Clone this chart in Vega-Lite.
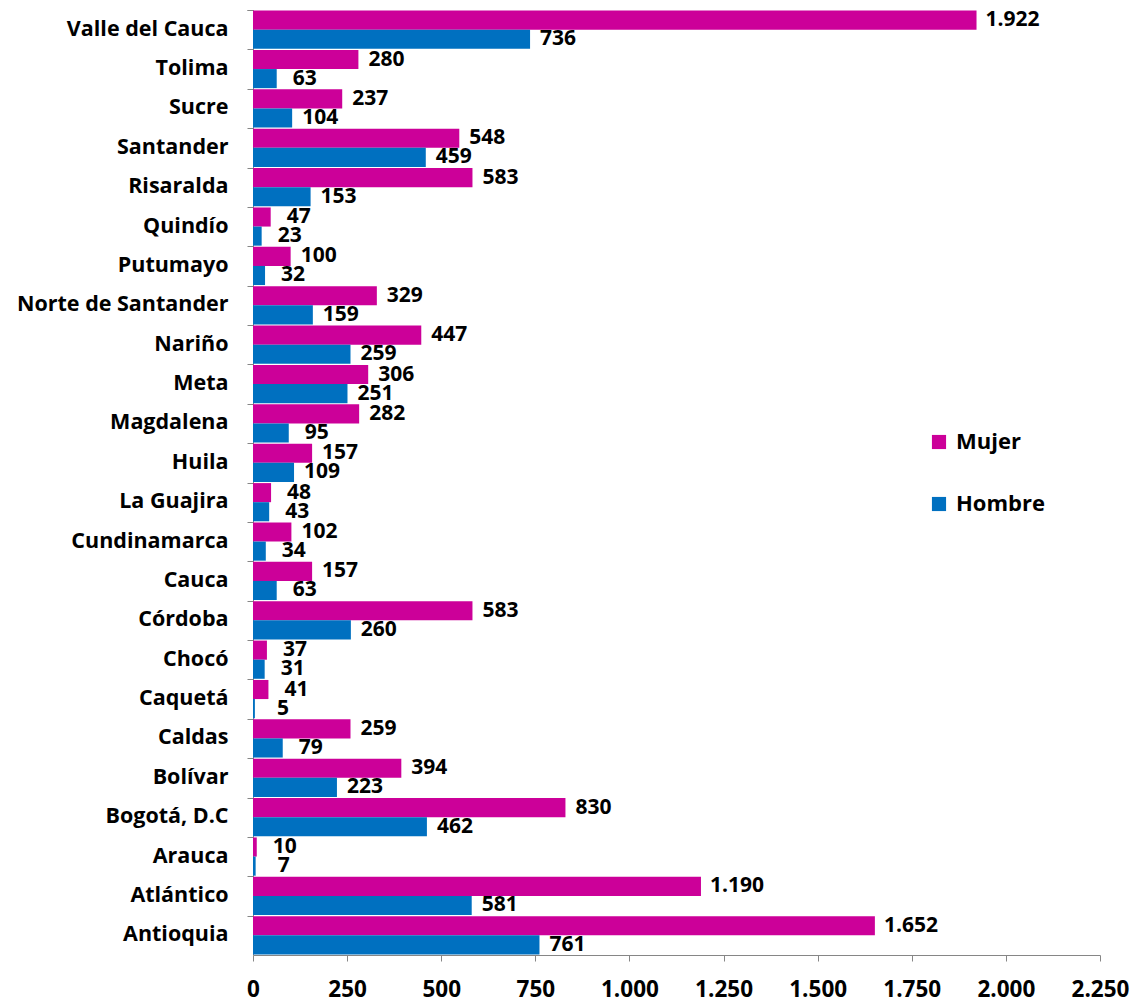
{
  "$schema": "https://vega.github.io/schema/vega-lite/v6.json",
  "width": 847,
  "height": 945,
  "autosize": {"type": "none"},
  "padding": {"left": 253, "top": 10, "right": 38, "bottom": 46},
  "background": "white",
  "config": {
    "locale": {"number": {"decimal": ",", "thousands": ".", "grouping": [3], "currency": ["$", ""]}},
    "font": "Open Sans",
    "view": {"stroke": null}
  },
  "data": {
    "values": [
      {"dep": "Valle del Cauca", "sexo": "Mujer", "valor": 1922},
      {"dep": "Valle del Cauca", "sexo": "Hombre", "valor": 736},
      {"dep": "Tolima", "sexo": "Mujer", "valor": 280},
      {"dep": "Tolima", "sexo": "Hombre", "valor": 63},
      {"dep": "Sucre", "sexo": "Mujer", "valor": 237},
      {"dep": "Sucre", "sexo": "Hombre", "valor": 104},
      {"dep": "Santander", "sexo": "Mujer", "valor": 548},
      {"dep": "Santander", "sexo": "Hombre", "valor": 459},
      {"dep": "Risaralda", "sexo": "Mujer", "valor": 583},
      {"dep": "Risaralda", "sexo": "Hombre", "valor": 153},
      {"dep": "Quindío", "sexo": "Mujer", "valor": 47},
      {"dep": "Quindío", "sexo": "Hombre", "valor": 23},
      {"dep": "Putumayo", "sexo": "Mujer", "valor": 100},
      {"dep": "Putumayo", "sexo": "Hombre", "valor": 32},
      {"dep": "Norte de Santander", "sexo": "Mujer", "valor": 329},
      {"dep": "Norte de Santander", "sexo": "Hombre", "valor": 159},
      {"dep": "Nariño", "sexo": "Mujer", "valor": 447},
      {"dep": "Nariño", "sexo": "Hombre", "valor": 259},
      {"dep": "Meta", "sexo": "Mujer", "valor": 306},
      {"dep": "Meta", "sexo": "Hombre", "valor": 251},
      {"dep": "Magdalena", "sexo": "Mujer", "valor": 282},
      {"dep": "Magdalena", "sexo": "Hombre", "valor": 95},
      {"dep": "Huila", "sexo": "Mujer", "valor": 157},
      {"dep": "Huila", "sexo": "Hombre", "valor": 109},
      {"dep": "La Guajira", "sexo": "Mujer", "valor": 48},
      {"dep": "La Guajira", "sexo": "Hombre", "valor": 43},
      {"dep": "Cundinamarca", "sexo": "Mujer", "valor": 102},
      {"dep": "Cundinamarca", "sexo": "Hombre", "valor": 34},
      {"dep": "Cauca", "sexo": "Mujer", "valor": 157},
      {"dep": "Cauca", "sexo": "Hombre", "valor": 63},
      {"dep": "Córdoba", "sexo": "Mujer", "valor": 583},
      {"dep": "Córdoba", "sexo": "Hombre", "valor": 260},
      {"dep": "Chocó", "sexo": "Mujer", "valor": 37},
      {"dep": "Chocó", "sexo": "Hombre", "valor": 31},
      {"dep": "Caquetá", "sexo": "Mujer", "valor": 41},
      {"dep": "Caquetá", "sexo": "Hombre", "valor": 5},
      {"dep": "Caldas", "sexo": "Mujer", "valor": 259},
      {"dep": "Caldas", "sexo": "Hombre", "valor": 79},
      {"dep": "Bolívar", "sexo": "Mujer", "valor": 394},
      {"dep": "Bolívar", "sexo": "Hombre", "valor": 223},
      {"dep": "Bogotá, D.C", "sexo": "Mujer", "valor": 830},
      {"dep": "Bogotá, D.C", "sexo": "Hombre", "valor": 462},
      {"dep": "Arauca", "sexo": "Mujer", "valor": 10},
      {"dep": "Arauca", "sexo": "Hombre", "valor": 7},
      {"dep": "Atlántico", "sexo": "Mujer", "valor": 1190},
      {"dep": "Atlántico", "sexo": "Hombre", "valor": 581},
      {"dep": "Antioquia", "sexo": "Mujer", "valor": 1652},
      {"dep": "Antioquia", "sexo": "Hombre", "valor": 761}
    ]
  },
  "encoding": {
    "y": {
      "field": "dep",
      "type": "nominal",
      "sort": null,
      "scale": {"paddingInner": 0.03, "paddingOuter": 0.015},
      "axis": {
        "title": null,
        "bandPosition": 0,
        "tickExtra": true,
        "domainColor": "#868686",
        "tickColor": "#868686",
        "tickSize": 6,
        "labelPadding": 19,
        "labelFont": "Open Sans",
        "labelFontWeight": "bold",
        "labelFontSize": 21.5,
        "labelColor": "black",
        "labelLimit": 300
      }
    },
    "yOffset": {"field": "sexo", "type": "nominal", "sort": ["Mujer", "Hombre"], "scale": {"paddingInner": 0, "paddingOuter": 0}},
    "x": {
      "field": "valor",
      "type": "quantitative",
      "scale": {"domain": [0, 2250], "nice": false},
      "axis": {
        "title": null,
        "values": [0, 250, 500, 750, 1000, 1250, 1500, 1750, 2000, 2250],
        "format": ",d",
        "grid": false,
        "domainColor": "#868686",
        "tickColor": "#868686",
        "tickSize": 6,
        "labelPadding": 17,
        "labelFont": "Open Sans",
        "labelFontWeight": "bold",
        "labelFontSize": 22.5,
        "labelColor": "black",
        "labelFlush": false
      }
    }
  },
  "layer": [
    {
      "mark": {"type": "bar"},
      "encoding": {
        "color": {
          "field": "sexo",
          "type": "nominal",
          "sort": ["Mujer", "Hombre"],
          "scale": {"domain": ["Mujer", "Hombre"], "range": ["#CC0099", "#0070C0"]},
          "legend": {
            "title": null,
            "orient": "none",
            "legendX": 675,
            "legendY": 421,
            "symbolType": "square",
            "symbolSize": 200,
            "symbolStrokeWidth": 0,
            "labelFont": "Open Sans",
            "labelFontWeight": "bold",
            "labelFontSize": 22,
            "labelColor": "black",
            "rowPadding": 40,
            "labelOffset": 6
          }
        }
      }
    },
    {
      "transform": [{"filter": "datum.valor >= 1000"}],
      "mark": {"type": "text", "align": "left", "baseline": "middle", "dx": 9, "font": "Open Sans", "fontWeight": "bold", "fontSize": 21, "color": "black"},
      "encoding": {
        "text": {"field": "valor", "type": "quantitative", "format": ",d"}
      }
    },
    {
      "transform": [{"filter": "datum.valor < 1000"}],
      "mark": {"type": "text", "align": "center", "baseline": "middle", "dx": 28, "font": "Open Sans", "fontWeight": "bold", "fontSize": 21, "color": "black"},
      "encoding": {
        "text": {"field": "valor", "type": "quantitative", "format": ",d"}
      }
    }
  ]
}
